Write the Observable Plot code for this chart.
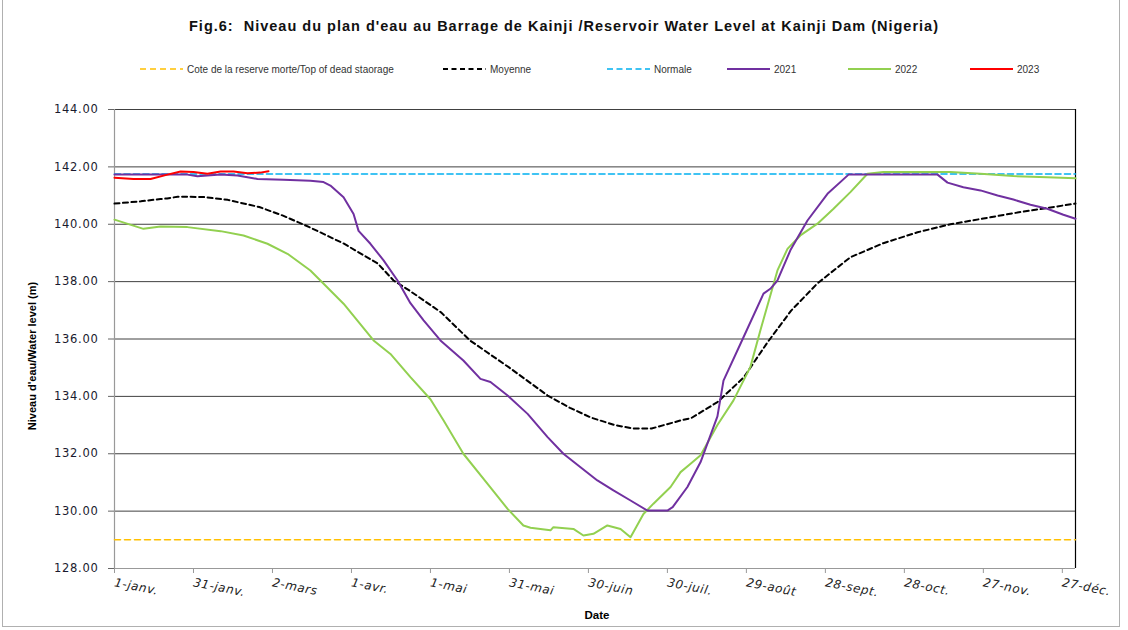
<!DOCTYPE html>
<html>
<head>
<meta charset="utf-8">
<script src="https://cdn.jsdelivr.net/npm/d3@7"></script>
<script src="https://cdn.jsdelivr.net/npm/@observablehq/plot@0.6"></script>
<style>
  html, body { margin: 0; padding: 0; background: #fff; }
  #wrap { position: relative; width: 1128px; height: 630px; overflow: hidden; font-family: "Liberation Sans", Arial, sans-serif; background: #fff; }
  #frame { position: absolute; left: 2px; top: -2px; width: 1118px; height: 629px; border: 1px solid #b0b0b0; box-sizing: border-box; pointer-events: none; z-index: 5; }
  #title { position: absolute; left: 0; width: 1128px; top: 18px; text-align: center; font-weight: bold; font-size: 14.5px; letter-spacing: 1px; color: #111; }
  #legend { position: absolute; left: 0; top: 60px; width: 1128px; height: 18px; }
  .lg-item { position: absolute; top: 0; height: 18px; display: flex; align-items: center; font-size: 10px; color: #333; }
  #chart { position: absolute; left: 0; top: 88px; }
  #ylabel { position: absolute; left: 32px; top: 356px; transform: translate(-50%, -50%) rotate(-90deg); white-space: nowrap; font-weight: bold; font-size: 11px; color: #000; }
  #xlabel { position: absolute; left: 597px; top: 615px; transform: translate(-50%, -50%); font-weight: bold; font-size: 11.5px; color: #000; }
  #chart svg { background: transparent; }
</style>
</head>
<body>
<div id="wrap">
  <div id="title">Fig.6:&nbsp; Niveau du plan d'eau au Barrage de Kainji /Reservoir Water Level at Kainji Dam (Nigeria)</div>
  <div id="legend"></div>
  <div id="chart"></div>
  <div id="ylabel">Niveau d'eau/Water level (m)</div>
  <div id="xlabel">Date</div>
  <div id="frame"></div>
</div>
<script>
// ---- Tick labels ----
const tickDays = [0, 30, 60, 90, 120, 150, 180, 210, 240, 270, 300, 330, 360];
const tickLabels = ["1-janv.", "31-janv.", "2-mars", "1-avr.", "1-mai", "31-mai", "30-juin", "30-juil.", "29-août", "28-sept.", "28-oct.", "27-nov.", "27-déc."];
const yTicks = [128, 130, 132, 134, 136, 138, 140, 142, 144];

// ---- Reference levels ----
const deadDays = [0, 365];
const deadLevels = [129.0, 129.0];
const normDays = [0, 365];
const normLevels = [141.75, 141.75];

// ---- Moyenne (average) ----
const moyDays = [0, 10, 17.5, 20, 24, 34, 43, 55, 64, 74, 87, 100, 106, 112, 124, 135, 150, 164.5, 173, 181, 190, 197, 204, 215, 219, 229, 239, 248, 257, 267, 279.5, 292, 305, 317.5, 330, 341, 353, 365];
const moyLevels = [140.72, 140.8, 140.88, 140.9, 140.96, 140.95, 140.85, 140.6, 140.3, 139.9, 139.33, 138.63, 138.04, 137.69, 136.93, 135.95, 135.0, 134.03, 133.6, 133.26, 133.0, 132.88, 132.88, 133.16, 133.24, 133.8, 134.66, 135.88, 136.99, 137.94, 138.85, 139.34, 139.72, 140.0, 140.2, 140.38, 140.55, 140.72];

// ---- 2021 ----
const days2021 = [0, 27.7, 31.5, 40.3, 46.7, 54.3, 64.2, 74.4, 79.4, 82, 87, 90.8, 92.7, 97.2, 102.2, 107.5, 112.4, 117.4, 123.8, 132.5, 139, 142.8, 149.3, 156.9, 164.5, 170.5, 177, 183.4, 189.5, 196, 202.4, 210, 212, 217.6, 222.6, 229, 231.3, 238.9, 246.5, 249.1, 251.8, 256.7, 263.2, 270.8, 278.8, 312.6, 316.4, 322.4, 328.9, 335.4, 341.4, 347.9, 354.3, 360.4, 365];
const levels2021 = [141.73, 141.73, 141.67, 141.73, 141.7, 141.58, 141.55, 141.52, 141.47, 141.35, 140.94, 140.36, 139.77, 139.32, 138.74, 138.04, 137.25, 136.65, 135.95, 135.25, 134.61, 134.5, 134.03, 133.39, 132.58, 132.0, 131.53, 131.07, 130.72, 130.37, 130.02, 130.02, 130.14, 130.84, 131.71, 133.3, 134.55, 136.06, 137.58, 137.75, 138.04, 139.09, 140.13, 141.06, 141.73, 141.73, 141.45, 141.29, 141.18, 141.0, 140.86, 140.68, 140.54, 140.33, 140.19];

// ---- 2022 ----
const days2022 = [0, 11, 17.5, 27.7, 40.3, 49, 58.1, 65.7, 74.4, 78.2, 87, 98.4, 104.8, 112.4, 120, 125, 132.5, 141.7, 149.3, 155.3, 158, 165.6, 166.7, 174.3, 178.1, 181.9, 187.2, 192.2, 196, 200.9, 204.7, 211.2, 215, 218.8, 222.6, 229, 235.1, 241.5, 245.3, 251.8, 255.6, 260.5, 267, 273.1, 279.5, 286, 292, 317.5, 328.9, 341.4, 354.3, 365];
const levels2022 = [140.16, 139.84, 139.92, 139.9, 139.76, 139.61, 139.32, 138.97, 138.39, 138.04, 137.23, 135.95, 135.48, 134.67, 133.9, 133.16, 132.0, 130.95, 130.08, 129.5, 129.42, 129.33, 129.44, 129.38, 129.15, 129.21, 129.5, 129.38, 129.09, 129.9, 130.26, 130.84, 131.36, 131.65, 131.95, 133.0, 133.86, 135.02, 136.3, 138.39, 139.14, 139.61, 140.02, 140.54, 141.12, 141.76, 141.82, 141.82, 141.76, 141.68, 141.64, 141.6];

// ---- 2023 ----
const days2023 = [0, 7.2, 13.7, 20.1, 25.1, 30, 35.3, 40.3, 45.2, 50.5, 55.4, 58.5];
const levels2023 = [141.62, 141.58, 141.58, 141.73, 141.84, 141.82, 141.76, 141.84, 141.84, 141.78, 141.8, 141.85];

// ---- Series styling / legend ----
const seriesNames = ["Cote de la reserve morte/Top of dead staorage", "Moyenne", "Normale", "2021", "2022", "2023"];
const seriesColors = ["#FFC000", "#000000", "#00B0F0", "#7030A0", "#92D050", "#FF0000"];
const seriesDash = ["6,4", "5,3.5", "6,3.5", null, null, null];
const seriesWidth = [1.6, 2, 1.6, 2, 2, 2];
const legendX = [140, 443, 607, 727, 848, 970];

const toRows = (days, levels) => days.map((d, i) => ({day: d, level: levels[i]}));
const seriesData = [
  toRows(deadDays, deadLevels),
  toRows(moyDays, moyLevels),
  toRows(normDays, normLevels),
  toRows(days2021, levels2021),
  toRows(days2022, levels2022),
  toRows(days2023, levels2023)
];

// Legend
const legend = document.getElementById("legend");
seriesNames.forEach((name, i) => {
  const item = document.createElement("div");
  item.className = "lg-item";
  item.style.left = legendX[i] + "px";
  const ns = "http://www.w3.org/2000/svg";
  const sw = document.createElementNS(ns, "svg");
  sw.setAttribute("width", 44); sw.setAttribute("height", 6);
  const ln = document.createElementNS(ns, "line");
  ln.setAttribute("x1", 0); ln.setAttribute("x2", 43); ln.setAttribute("y1", 3); ln.setAttribute("y2", 3);
  ln.setAttribute("stroke", seriesColors[i]); ln.setAttribute("stroke-width", seriesWidth[i]);
  if (seriesDash[i]) ln.setAttribute("stroke-dasharray", seriesDash[i]);
  sw.appendChild(ln);
  item.appendChild(sw);
  const t = document.createElement("span");
  t.textContent = name;
  t.style.marginLeft = "3px";
  item.appendChild(t);
  legend.appendChild(item);
});

const drawOrder = [0, 2, 1, 4, 3, 5];
const chart = Plot.plot({
  width: 1128,
  height: 542,
  marginTop: 21,
  marginBottom: 62,
  marginLeft: 114,
  marginRight: 53,
  x: {type: "linear", domain: [0, 365]},
  y: {domain: [128, 144]},
  style: {fontFamily: "DejaVu Sans, Verdana, sans-serif", background: "transparent"},
  marks: [
    Plot.ruleY(yTicks.filter(v => v > 128), {stroke: "#404040", strokeWidth: 1}),
    Plot.ruleY([128], {stroke: "#999", strokeWidth: 1.2}),
    Plot.ruleX([0], {stroke: "#999", strokeWidth: 1.2}),
    Plot.ruleX([365], {stroke: "#000", strokeWidth: 1.2}),
    Plot.axisY({ticks: yTicks, tickFormat: d => d.toFixed(2), tickSize: 6, tickPadding: 10, stroke: "#666", fill: "#1a1a2e", fontSize: 11.5, letterSpacing: 0.7, label: null}),
    Plot.axisX({ticks: tickDays, tickFormat: (d, i) => tickLabels[i], tickSize: 5, tickPadding: 9, tickRotate: 11, stroke: "#999", fill: "#222", fontSize: 12, letterSpacing: 0.6, fontStyle: "italic", label: null}),
    ...drawOrder.map(i => Plot.line(seriesData[i], {
      x: "day", y: "level",
      stroke: seriesColors[i],
      strokeWidth: seriesWidth[i],
      strokeDasharray: seriesDash[i] || undefined,
      curve: "linear"
    }))
  ]
});
document.getElementById("chart").appendChild(chart);
// letter-spacing for tick labels (applied as style since axis text options may not forward it)
chart.querySelectorAll("g[aria-label='y-axis tick label'] text").forEach(t => t.style.letterSpacing = "0.7px");
chart.querySelectorAll("g[aria-label='x-axis tick label'] text").forEach(t => t.style.letterSpacing = "0.6px");
</script>
</body>
</html>
